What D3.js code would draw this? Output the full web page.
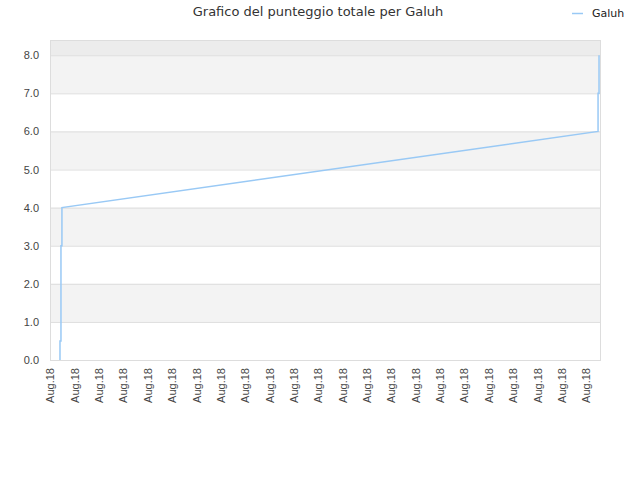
<!DOCTYPE html>
<html>
<head>
<meta charset="utf-8">
<script src="https://cdn.jsdelivr.net/npm/d3@7"></script>
<style>
  body { margin: 0; background: #fff; }
  svg { font-family: "DejaVu Sans", sans-serif; }
</style>
</head>
<body>
<svg id="chart" width="640" height="480"></svg>
<script>
// Chart data (x in tick units, each tick labelled "Aug.18")
const seriesName = "Galuh";
const timeValues = [0.41, 0.41, 0.45, 0.45, 0.49, 0.49, 22.5, 22.5, 22.54, 22.54];
const scoreValues = [0, 0.5, 0.5, 3, 3, 4, 6, 7, 7, 8];
const tickPositions = d3.range(0, 23);
const tickLabels = tickPositions.map(() => "Aug.18");
const yTicks = [0, 1, 2, 3, 4, 5, 6, 7, 8];

const svg = d3.select("#chart");
const margin = { left: 50, top: 40, right: 40, bottom: 120 };
const width = 640 - margin.left - margin.right;
const height = 480 - margin.top - margin.bottom;

const x = d3.scaleLinear().domain([0, 22.58]).range([0, width]);
const y = d3.scaleLinear().domain([0, 8.4]).range([height, 0]);

const g = svg.append("g").attr("transform", `translate(${margin.left},${margin.top})`);

// Background bands
g.append("rect")
    .attr("x", 0).attr("y", 0)
    .attr("width", width).attr("height", y(8))
    .attr("fill", "#ececec");
g.selectAll("rect.band")
    .data(yTicks.slice(0, -1).filter(d => d % 2 === 1))
    .enter()
    .append("rect")
    .attr("class", "band")
    .attr("x", 0)
    .attr("y", d => y(d + 1))
    .attr("width", width)
    .attr("height", d => y(d) - y(d + 1))
    .attr("fill", "#f3f3f3");

// Grid lines
g.selectAll("line.grid")
    .data(yTicks)
    .enter()
    .append("line")
    .attr("x1", 0).attr("x2", width)
    .attr("y1", d => y(d) + 0.5).attr("y2", d => y(d) + 0.5)
    .attr("stroke", "#dddddd");

// Border
g.append("rect")
    .attr("x", 0.5).attr("y", 0.5)
    .attr("width", width).attr("height", height)
    .attr("fill", "none")
    .attr("stroke", "#dddddd");

// Y axis labels
const yAxis = d3.axisLeft(y).tickValues(yTicks).tickFormat(d3.format(".1f")).tickSize(0).tickPadding(11);
g.append("g").call(yAxis)
    .call(a => a.select(".domain").remove())
    .selectAll("text")
    .style("font-size", "11px")
    .attr("fill", "#444");

// X axis labels
const xAxis = d3.axisBottom(x).tickValues(tickPositions).tickFormat((d, i) => tickLabels[i]).tickSize(0);
g.append("g")
    .attr("transform", `translate(0,${height})`)
    .call(xAxis)
    .call(a => a.select(".domain").remove())
    .selectAll("text")
    .style("font-size", "11px")
    .attr("fill", "#444")
    .attr("text-anchor", "end")
    .attr("transform", "rotate(-90)")
    .attr("x", -8)
    .attr("y", 0)
    .attr("dy", "0.35em");

// Series line
const line = d3.line()
    .x((d, i) => x(timeValues[i]))
    .y(d => y(d));
g.append("path")
    .datum(scoreValues)
    .attr("d", line)
    .attr("fill", "none")
    .attr("stroke", "#99c9f5")
    .attr("stroke-width", 1.5);

// Title
svg.append("text")
    .attr("x", 318).attr("y", 16)
    .attr("text-anchor", "middle")
    .style("font-size", "13px")
    .attr("fill", "#333")
    .text("Grafico del punteggio totale per " + seriesName);

// Legend
svg.append("line")
    .attr("x1", 572).attr("x2", 583)
    .attr("y1", 13.5).attr("y2", 13.5)
    .attr("stroke", "#99c9f5")
    .attr("stroke-width", 1.5);
svg.append("text")
    .attr("x", 592).attr("y", 17)
    .style("font-size", "11px")
    .attr("fill", "#222")
    .text(seriesName);
</script>
</body>
</html>
